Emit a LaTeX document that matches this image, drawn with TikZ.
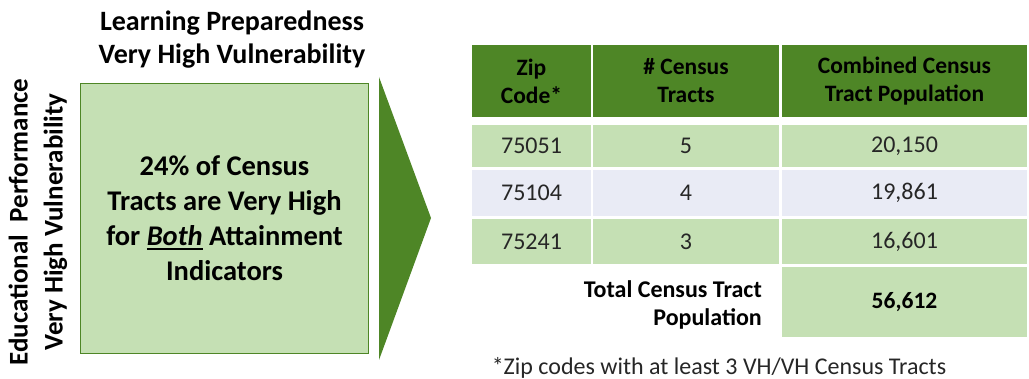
\documentclass[tikz,border=0pt]{standalone}
\usepackage{fontspec}
\setmainfont{Carlito}
\definecolor{dkgreen}{HTML}{4E8626}
\definecolor{ltgreen}{HTML}{C5E0B4}
\definecolor{lavender}{HTML}{E9EBF5}
\definecolor{txtgray}{HTML}{262626}
\newcommand\myul[1]{\setbox0\hbox{#1}\rlap{\raisebox{-4pt}{\rule{\wd0}{1.8pt}}}\box0\relax}
\newcommand\tcell[8]{\node[cell, #7, fill=#6, minimum width=#4pt, minimum height=#5pt] (#1) at (#2,#3) {#8};}
\begin{document}
\begin{tikzpicture}[x=1pt,y=-1pt,
  cell/.style={anchor=north west, inner sep=0pt, outer sep=0pt, align=center, text=txtgray, font=\fontsize{24}{28}\selectfont},
  hdr/.style={text=black, font=\bfseries\fontsize{23.5}{28}\selectfont},
  dat/.style={},
  title/.style={align=center, inner sep=0pt, font=\bfseries\fontsize{28}{33}\selectfont}]
\useasboundingbox (0,0) rectangle (1029,379);
% titles
\node[title] (top) at (232,40) {Learning Preparedness\\Very High Vulnerability};
\node[title, rotate=90, font=\bfseries\fontsize{27}{35}\selectfont] (side) at (38,222) {Educational~ Performance\\Very High Vulnerability};
% main box
\node[draw=dkgreen, line width=1.6pt, fill=ltgreen, minimum width=288pt, minimum height=270pt, inner sep=0pt, align=center,
  font=\bfseries\fontsize{28.5}{35}\selectfont] (box) at (224.5,218.5)
  {24\% of Census\\Tracts are Very High\\for \myul{\textit{Both}} Attainment\\Indicators};
% chevron
\fill[dkgreen] (379,77) -- (431,218) -- (379,360) -- cycle;
% table header
\tcell{h1}{472}{45}{119}{72}{dkgreen}{hdr}{Zip\\Code*}
\tcell{h2}{593}{45}{186}{72}{dkgreen}{hdr}{\# Census\\Tracts}
\tcell{h3}{782}{45}{245}{72}{dkgreen}{hdr}{Combined Census\\Tract Population}
% rows
\tcell{a1}{472}{125}{119}{42}{ltgreen}{dat}{75051}
\tcell{a2}{593}{125}{186}{42}{ltgreen}{dat}{5}
\tcell{a3}{782}{125}{245}{42}{ltgreen}{dat}{20,150}
\tcell{b1}{472}{170}{119}{46}{lavender}{dat}{75104}
\tcell{b2}{593}{170}{186}{46}{lavender}{dat}{4}
\tcell{b3}{782}{170}{245}{46}{lavender}{dat}{19,861}
\tcell{c1}{472}{219}{119}{45}{ltgreen}{dat}{75241}
\tcell{c2}{593}{219}{186}{45}{ltgreen}{dat}{3}
\tcell{c3}{782}{219}{245}{45}{ltgreen}{dat}{16,601}
\tcell{tot}{782}{267}{245}{70}{ltgreen}{hdr}{56,612}
\node[anchor=east, align=right, inner sep=0pt, text=black, font=\bfseries\fontsize{24}{28}\selectfont] (totlbl) at (762,305) {Total Census Tract\\Population};
\node[inner sep=0pt, text=txtgray, font=\fontsize{24}{28}\selectfont] (foot) at (719,368) {*Zip codes with at least 3 VH/VH Census Tracts};
\end{tikzpicture}
\end{document}
